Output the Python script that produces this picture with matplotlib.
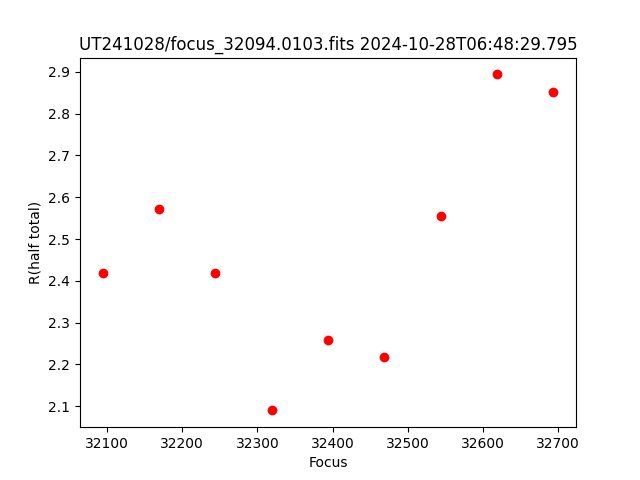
import matplotlib
matplotlib.use('Agg')
import matplotlib.pyplot as plt

# Focus positions and half-total radius
focus = [32094, 32169, 32244, 32319, 32394, 32469, 32544, 32619, 32694]
r_half = [2.418, 2.571, 2.418, 2.090, 2.258, 2.217, 2.555, 2.894, 2.851]

fig, ax = plt.subplots(figsize=(6.4, 4.8), dpi=100)
ax.plot(focus, r_half, 'ro')
ax.set_xlabel('Focus')
ax.set_ylabel('R(half total)')
ax.set_title('UT241028/focus_32094.0103.fits 2024-10-28T06:48:29.795')
fig.savefig('out.png')
